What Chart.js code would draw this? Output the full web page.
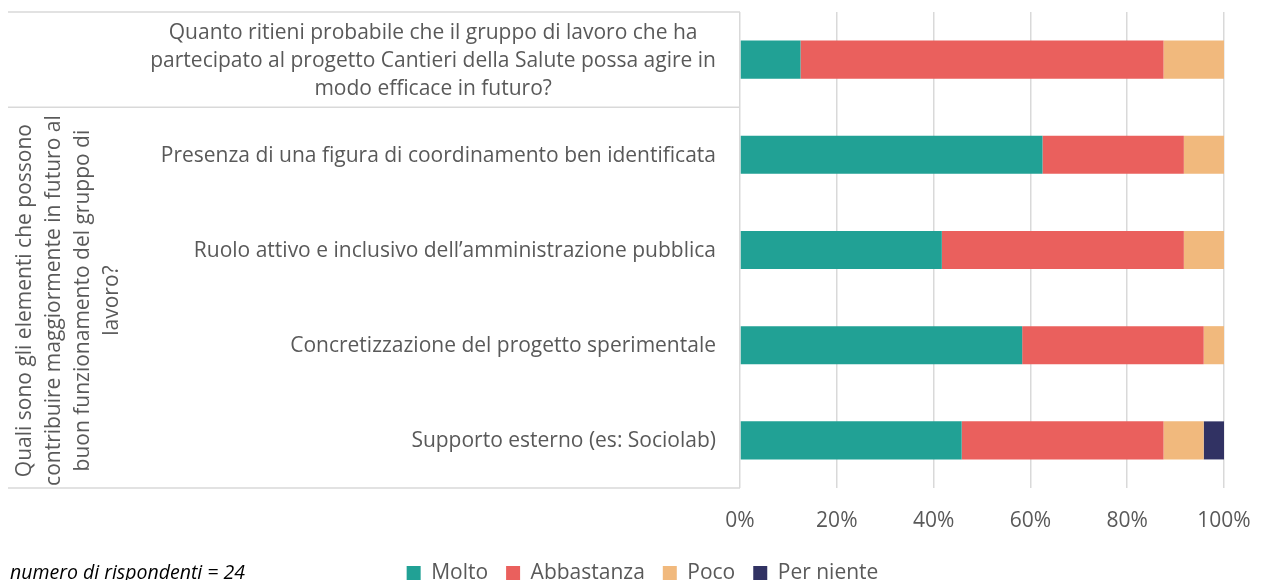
<!DOCTYPE html>
<html><head><meta charset="utf-8">
<script src="https://cdn.jsdelivr.net/npm/chart.js@4"></script>
<style>html,body{margin:0;padding:0;background:#fff}#wrap{width:1263px;height:580px}</style>
</head><body><div id="wrap"><canvas id="c" width="1263" height="580"></canvas></div>
<script>
// ---- data ----
const categories = [
  ["Quanto ritieni probabile che il gruppo di lavoro che ha",
   "partecipato al progetto Cantieri della Salute possa agire in",
   "modo efficace in futuro?"],
  "Presenza di una figura di coordinamento ben identificata",
  "Ruolo attivo e inclusivo dell\u2019amministrazione pubblica",
  "Concretizzazione del progetto sperimentale",
  "Supporto esterno (es: Sociolab)"
];
const groupLabel = [
  "Quali sono gli elementi che possono",
  "contribuire maggiormente in futuro al",
  "buon funzionamento del gruppo di",
  "lavoro?"
];
const seriesNames = ["Molto", "Abbastanza", "Poco", "Per niente"];
const molto      = [12.5, 62.5, 41.7, 58.3, 45.8];
const abbastanza = [75.0, 29.2, 50.0, 37.5, 41.7];
const poco       = [12.5,  8.3,  8.3,  4.2,  8.3];
const perNiente  = [ 0.0,  0.0,  0.0,  0.0,  4.2];
const xTicks = [0, 20, 40, 60, 80, 100];
const footnote = "numero di rispondenti = 24";

// ---- style ----
const seriesData = [molto, abbastanza, poco, perNiente];
const colors = ["#21A195", "#EA605D", "#F1B97D", "#313263"];
const FONT = '"Open Sans", Lato, sans-serif';
const TXT = '#595959';
const FS = 21;

const labelPlugin = {
  id: 'customLabels',
  afterDraw(chart) {
    const ctx = chart.ctx, ys = chart.scales.y, a = chart.chartArea;
    ctx.save();
    ctx.strokeStyle = '#D9D9D9';
    ctx.lineWidth = 1.5;
    const b01 = (ys.getPixelForValue(0) + ys.getPixelForValue(1)) / 2;
    [a.top, b01, a.bottom].forEach(yy => {
      ctx.beginPath(); ctx.moveTo(8, yy); ctx.lineTo(a.left, yy); ctx.stroke();
    });
    ctx.font = FS + 'px ' + FONT;
    ctx.fillStyle = TXT;
    ctx.textBaseline = 'middle';
    ctx.textAlign = 'center';
    const right = a.left - 24, lh = 28;
    categories.forEach((lab, i) => {
      const lines = Array.isArray(lab) ? lab : [lab];
      const w = Math.max(...lines.map(l => ctx.measureText(l).width));
      const cx = right - w / 2;
      const cy = ys.getPixelForValue(i) + 1;
      lines.forEach((l, j) => ctx.fillText(l, cx, cy + (j - (lines.length - 1) / 2) * lh));
    });
    // rotated group label
    const gy = (b01 + a.bottom) / 2 + 3;
    ctx.save();
    ctx.translate(69, gy);
    ctx.rotate(-Math.PI / 2);
    groupLabel.forEach((l, j) => ctx.fillText(l, 0, (j - (groupLabel.length - 1) / 2) * 29));
    ctx.restore();
    // footnote
    let fy = 571;
    const hb = chart.legend && chart.legend.legendHitBoxes;
    if (hb && hb.length) fy = hb[0].top + hb[0].height / 2;
    ctx.font = 'italic 19.5px ' + FONT;
    ctx.fillStyle = '#000';
    ctx.textAlign = 'left';
    ctx.fillText(footnote, 10, fy);
    ctx.restore();
  }
};

new Chart(document.getElementById('c'), {
  type: 'bar',
  data: {
    labels: categories,
    datasets: seriesNames.map((n, k) => ({
      label: n, data: seriesData[k], backgroundColor: colors[k],
      barPercentage: 0.4, categoryPercentage: 1, borderWidth: 0
    }))
  },
  options: {
    indexAxis: 'y', responsive: false, animation: false,
    layout: { padding: { top: 12, right: 0, left: 22, bottom: -13.5 } },
    scales: {
      x: {
        stacked: true, min: 0, max: 100,
        grid: { color: '#D9D9D9', lineWidth: 1.5, drawTicks: false },
        border: { display: false },
        afterBuildTicks: s => { s.ticks = xTicks.map(v => ({ value: v })); },
        ticks: { padding: 20, color: TXT, font: { family: FONT, size: FS }, callback: v => v + '%' },
        afterFit: s => { s.height = 56.5; s.paddingLeft = 0; s.paddingRight = 39; }
      },
      y: {
        stacked: true,
        grid: { display: false }, border: { display: false },
        ticks: { display: false },
        afterFit: s => { s.width = 718; }
      }
    },
    plugins: {
      legend: {
        position: 'bottom',
        labels: { boxWidth: 14, boxHeight: 14, padding: 18, color: TXT, font: { family: FONT, size: FS } }
      },
      tooltip: { enabled: false }
    }
  },
  plugins: [labelPlugin]
});
</script></body></html>
